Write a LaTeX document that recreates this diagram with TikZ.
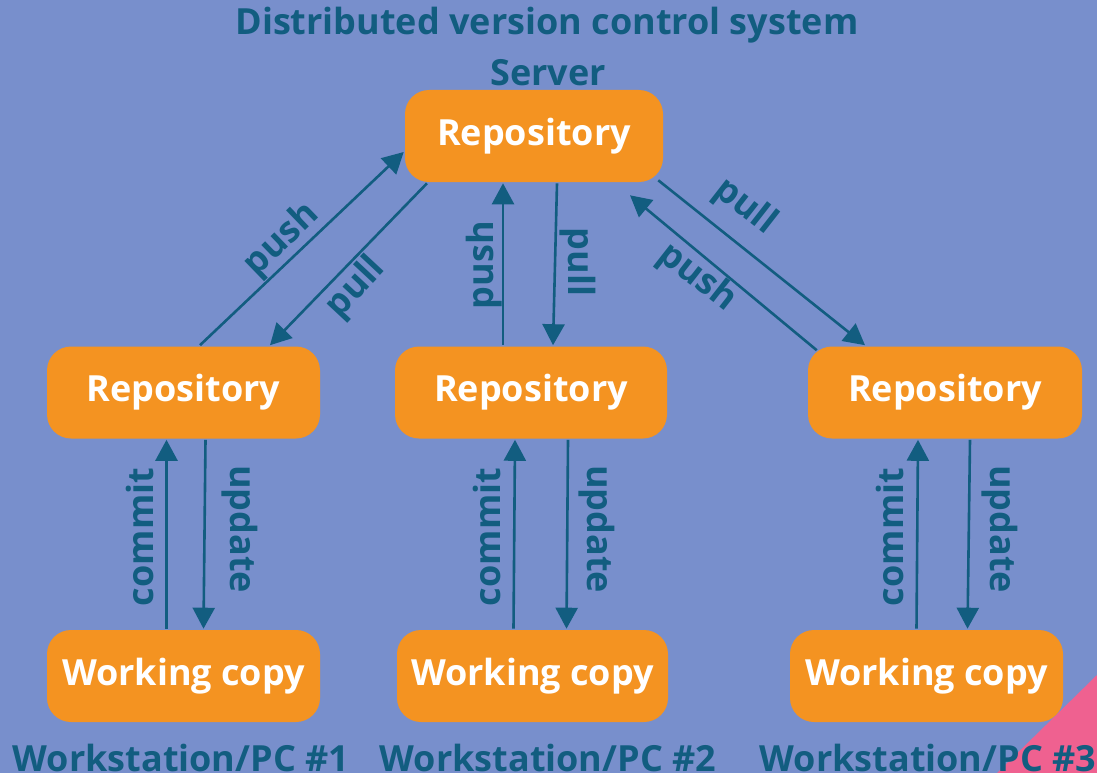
\documentclass[tikz,border=0pt]{standalone}
\usepackage{fontspec}
\setmainfont{Open Sans}
\usetikzlibrary{arrows.meta}

\definecolor{bgblue}{HTML}{788FCC}
\definecolor{boxorange}{HTML}{F49321}
\definecolor{inkteal}{HTML}{125D80}
\definecolor{cornerpink}{HTML}{EF6190}

\begin{document}
\begin{tikzpicture}[x=1pt,y=-1pt,line width=2.6pt,>={Triangle[length=21pt,width=22pt]},
  repo/.style={fill=boxorange,rounded corners=24pt,text=white,font=\fontsize{36}{36}\selectfont\bfseries,
    minimum width=273pt,minimum height=92pt,inner sep=0pt},
  lbl/.style={text=inkteal,font=\fontsize{36}{36}\selectfont\bfseries,inner sep=0pt},
  flow/.style={->,draw=inkteal}]
% canvas and corner
\fill[bgblue] (0,0) rectangle (1097,773);
\useasboundingbox (0,0) rectangle (1097,773);
\fill[cornerpink] (997,773) -- (1097,675) -- (1097,773) -- cycle;

% headings
\node[lbl] (title) at (547,25) {Distributed version control system};
\node[lbl] (server) at (548,73) {Server};

% server and local repositories
\node[repo,minimum width=258pt] (top) at (534,136) {Repository};
\node[repo] (r1) at (183.5,392.5) {Repository};
\node[repo,minimum width=272pt] (r2) at (531,392.5) {Repository};
\node[repo,minimum width=274pt] (r3) at (945,392.5) {Repository};

% working copies
\node[repo] (w1) at (183.5,676) {Working copy};
\node[repo,minimum width=271pt] (w2) at (532.5,676) {Working copy};
\node[repo] (w3) at (926.5,676) {Working copy};

% workstation captions
\node[lbl,anchor=base] (pc1) at (181,771) {Workstation/PC \#1};
\node[lbl,anchor=base] (pc2) at (548,771) {Workstation/PC \#2};
\node[lbl,anchor=base] (pc3) at (928,771) {Workstation/PC \#3};

% push / pull with the server
\draw[flow] ([xshift=16.5pt]r1.north) -- ([yshift=-16pt]top.west);
\draw[flow] ([xshift=-107pt]top.south) -- ([xshift=86.5pt]r1.north);
\draw[flow] ([xshift=-28pt]r2.north) -- ([xshift=-31pt]top.south);
\draw[flow] ([xshift=23pt]top.south) -- ([xshift=22pt]r2.north);
\draw[flow] ([xshift=-6pt,yshift=3pt]top.south east) -- ([xshift=-80pt]r3.north);
\draw[flow] ([xshift=10pt,yshift=-5pt]r3.north west) -- ([xshift=96pt,yshift=-12pt]top.south);

\node[lbl,rotate=44] (push1) at (282,240) {push};
\node[lbl,rotate=47] (pull1) at (356,288) {pull};
\node[lbl,rotate=90] (push2) at (484,265) {push};
\node[lbl,rotate=-90] (pull2) at (578,262) {pull};
\node[lbl,rotate=-38] (pull3) at (745,207) {pull};
\node[lbl,rotate=-38] (push3) at (697,278) {push};

% commit / update on each workstation
\draw[flow] ([xshift=-17pt]w1.north) -- ([xshift=-17pt]r1.south);
\draw[flow] ([xshift=22pt]r1.south) -- ([xshift=20pt]w1.north);
\draw[flow] ([xshift=-19pt]w2.north) -- ([xshift=-16pt]r2.south);
\draw[flow] ([xshift=37pt]r2.south) -- ([xshift=34pt]w2.north);
\draw[flow] ([xshift=-10pt]w3.north) -- ([xshift=-27pt]r3.south);
\draw[flow] ([xshift=25pt]r3.south) -- ([xshift=41pt]w3.north);

\node[lbl,rotate=90] (commit1) at (140,537) {commit};
\node[lbl,rotate=-90] (update1) at (240,529) {update};
\node[lbl,rotate=90] (commit2) at (487,537) {commit};
\node[lbl,rotate=-90] (update2) at (597,529) {update};
\node[lbl,rotate=90] (commit3) at (890,537) {commit};
\node[lbl,rotate=-90] (update3) at (1000,529) {update};
\end{tikzpicture}
\end{document}
